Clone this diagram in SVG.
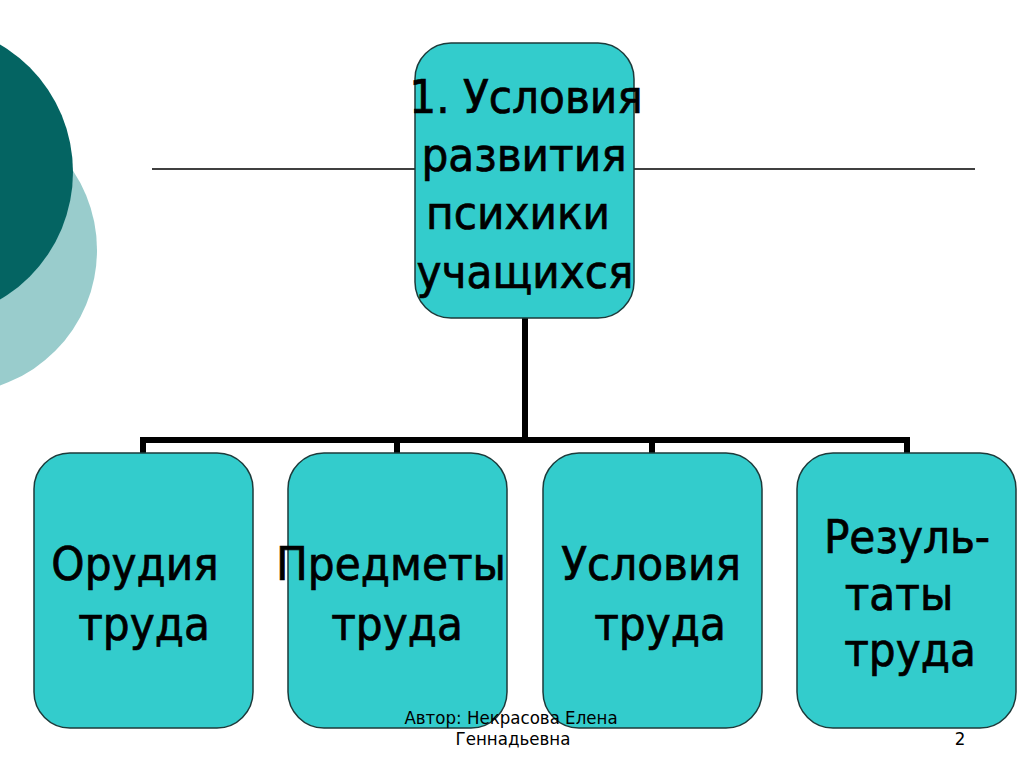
<svg xmlns="http://www.w3.org/2000/svg" width="1024" height="767" viewBox="0 0 1024 767">
<style>
.box{fill:#33CCCC;stroke:#1c3a3a;stroke-width:1.5}
.t{font-family:"DejaVu Sans Condensed","DejaVu Sans",sans-serif;font-size:47px;fill:#000;stroke:#000;stroke-width:0.7;text-anchor:middle}
.f{font-family:"DejaVu Sans Condensed","DejaVu Sans",sans-serif;font-size:18.5px;fill:#000;text-anchor:middle}
.c{fill:none;stroke:#000;stroke-width:6}
</style>
<rect width="1024" height="767" fill="#fff"/>
<g id="background">
<circle cx="-46" cy="250" r="143" fill="#99CCCC"/>
<circle cx="-75" cy="172" r="148" fill="#046462"/>
<line x1="152" y1="169" x2="975" y2="169" stroke="#000" stroke-width="1.3"/>
</g>
<g id="connectors">
<line class="c" x1="525" y1="318" x2="525" y2="440"/>
<polyline class="c" points="143,453 143,440 907,440 907,453"/>
<line class="c" x1="397" y1="440" x2="397" y2="453"/>
<line class="c" x1="652" y1="440" x2="652" y2="453"/>
</g>
<g id="root">
<rect class="box" x="415" y="43" width="219" height="275" rx="36"/>
<text class="t" x="526" y="113">1. Условия</text>
<text class="t" x="524" y="171">развития</text>
<text class="t" x="518" y="229">психики</text>
<text class="t" x="525" y="288">учащихся</text>
</g>
<g id="n1">
<rect class="box" x="34" y="453" width="219" height="275" rx="36"/>
<text class="t" x="135" y="580">Орудия</text>
<text class="t" x="144" y="640">труда</text>
</g>
<g id="n2">
<rect class="box" x="288" y="453" width="219" height="275" rx="36"/>
<text class="t" x="391" y="580">Предметы</text>
<text class="t" x="397" y="640">труда</text>
</g>
<g id="n3">
<rect class="box" x="543" y="453" width="219" height="275" rx="36"/>
<text class="t" x="651" y="580">Условия</text>
<text class="t" x="660" y="640">труда</text>
</g>
<g id="n4">
<rect class="box" x="797" y="453" width="219" height="275" rx="36"/>
<text class="t" x="907" y="553">Резуль-</text>
<text class="t" x="899" y="610">таты</text>
<text class="t" x="910" y="666">труда</text>
</g>
<g id="footer">
<text class="f" x="511" y="724">Автор: Некрасова Елена</text>
<text class="f" x="513" y="745">Геннадьевна</text>
<text class="f" x="960" y="745">2</text>
</g>
</svg>
